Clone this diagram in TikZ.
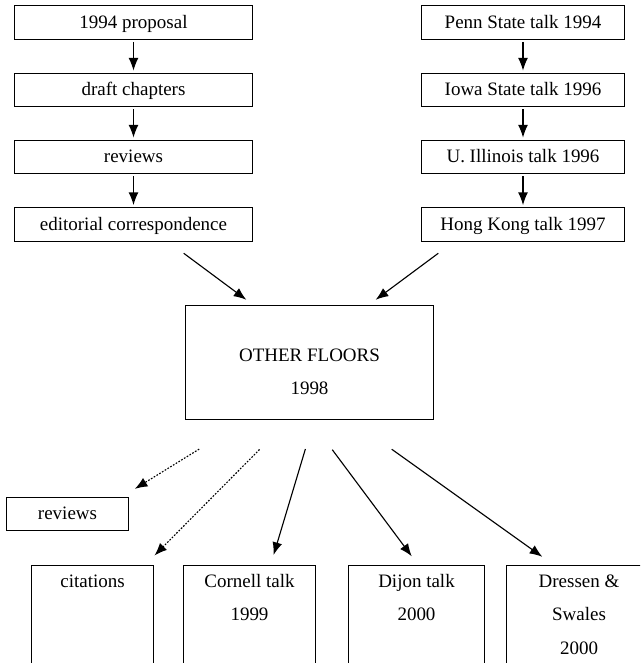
\documentclass[tikz,border=0pt]{standalone}
\usepackage{fontspec}
\setmainfont{Liberation Serif}
\usetikzlibrary{arrows.meta}

\tikzset{
  flowbox/.style={draw, line width=0.7pt, inner sep=0pt, minimum height=0.84cm,
    text height=10.5pt, text depth=2.5pt},
  hubbox/.style={draw, line width=0.7pt, anchor=north, align=center, inner xsep=0pt,
    inner ysep=4pt, minimum width=6.175cm, text height=59.3pt, text depth=13.7pt},
  outbox/.style={draw, line width=0.7pt, anchor=north, align=center, inner xsep=0pt,
    inner ysep=4pt, text height=11.4pt, text depth=3cm},
  flow/.style={line width=0.8pt, -{Latex[length=9pt,width=7pt]}, shorten <=1.5pt, shorten >=1.5pt},
  maybe/.style={flow, dash pattern=on 1.2pt off 1.1pt}
}

\begin{document}
\begin{tikzpicture}[x=0.025cm, y=-0.025cm, font=\fontsize{13.5}{23.8}\selectfont]
  \useasboundingbox (0,0) rectangle (640,663);
  \clip (0,0) rectangle (640,663);

  % left column
  \node[flowbox, minimum width=5.925cm] (prop) at (133.5,22.5) {1994 proposal};
  \node[flowbox, minimum width=5.925cm] (draft) at (133.5,90) {draft chapters};
  \node[flowbox, minimum width=5.925cm] (rev) at (133.5,157) {reviews};
  \node[flowbox, minimum width=5.925cm] (corr) at (133.5,224.5) {editorial correspondence};

  % right column
  \node[flowbox, minimum width=5.05cm] (penn) at (523,22.5) {Penn State talk 1994};
  \node[flowbox, minimum width=5.05cm] (iowa) at (523,90) {Iowa State talk 1996};
  \node[flowbox, minimum width=5.05cm] (ill) at (523,157) {U. Illinois talk 1996};
  \node[flowbox, minimum width=5.05cm] (hk) at (523,224.5) {Hong Kong talk 1997};

  \draw[flow] (prop) -- (draft);
  \draw[flow] (draft) -- (rev);
  \draw[flow] (rev) -- (corr);
  \draw[flow] (penn) -- (iowa);
  \draw[flow] (iowa) -- (ill);
  \draw[flow] (ill) -- (hk);

  % the book
  \node[hubbox] (floors) at (309.5,305) {OTHER FLOORS\\1998};

  \coordinate (inl) at (182,252);
  \coordinate (inle) at (248,301);
  \coordinate (inr) at (440,252);
  \coordinate (inre) at (374,301);
  \draw[flow] (inl) -- (inle);
  \draw[flow] (inr) -- (inre);

  % afterwards
  \node[flowbox, minimum width=3.025cm] (rev2) at (67.5,514) {reviews};
  \node[outbox, minimum width=3.025cm] (cit) at (92.5,565) {citations};
  \node[outbox, minimum width=3.275cm, text height=35.2pt] (cornell) at (249.5,565) {Cornell talk\\1999};
  \node[outbox, minimum width=3.375cm, text height=35.2pt] (dijon) at (416.5,565) {Dijon talk\\2000};
  \node[outbox, minimum width=3.6cm, text height=59pt] (dress) at (579,565) {Dressen \&\\Swales\\2000};

  \coordinate (o1) at (201,448);
  \coordinate (o1e) at (133,490);
  \coordinate (o2) at (261,448);
  \coordinate (o2e) at (153,557);
  \coordinate (o3) at (306,447);
  \coordinate (o3e) at (273,557);
  \coordinate (o4) at (331,448);
  \coordinate (o4e) at (413,558);
  \coordinate (o5) at (390,448);
  \coordinate (o5e) at (544,558);
  \draw[maybe] (o1) -- (o1e);
  \draw[maybe] (o2) -- (o2e);
  \draw[flow] (o3) -- (o3e);
  \draw[flow] (o4) -- (o4e);
  \draw[flow] (o5) -- (o5e);
\end{tikzpicture}
\end{document}
